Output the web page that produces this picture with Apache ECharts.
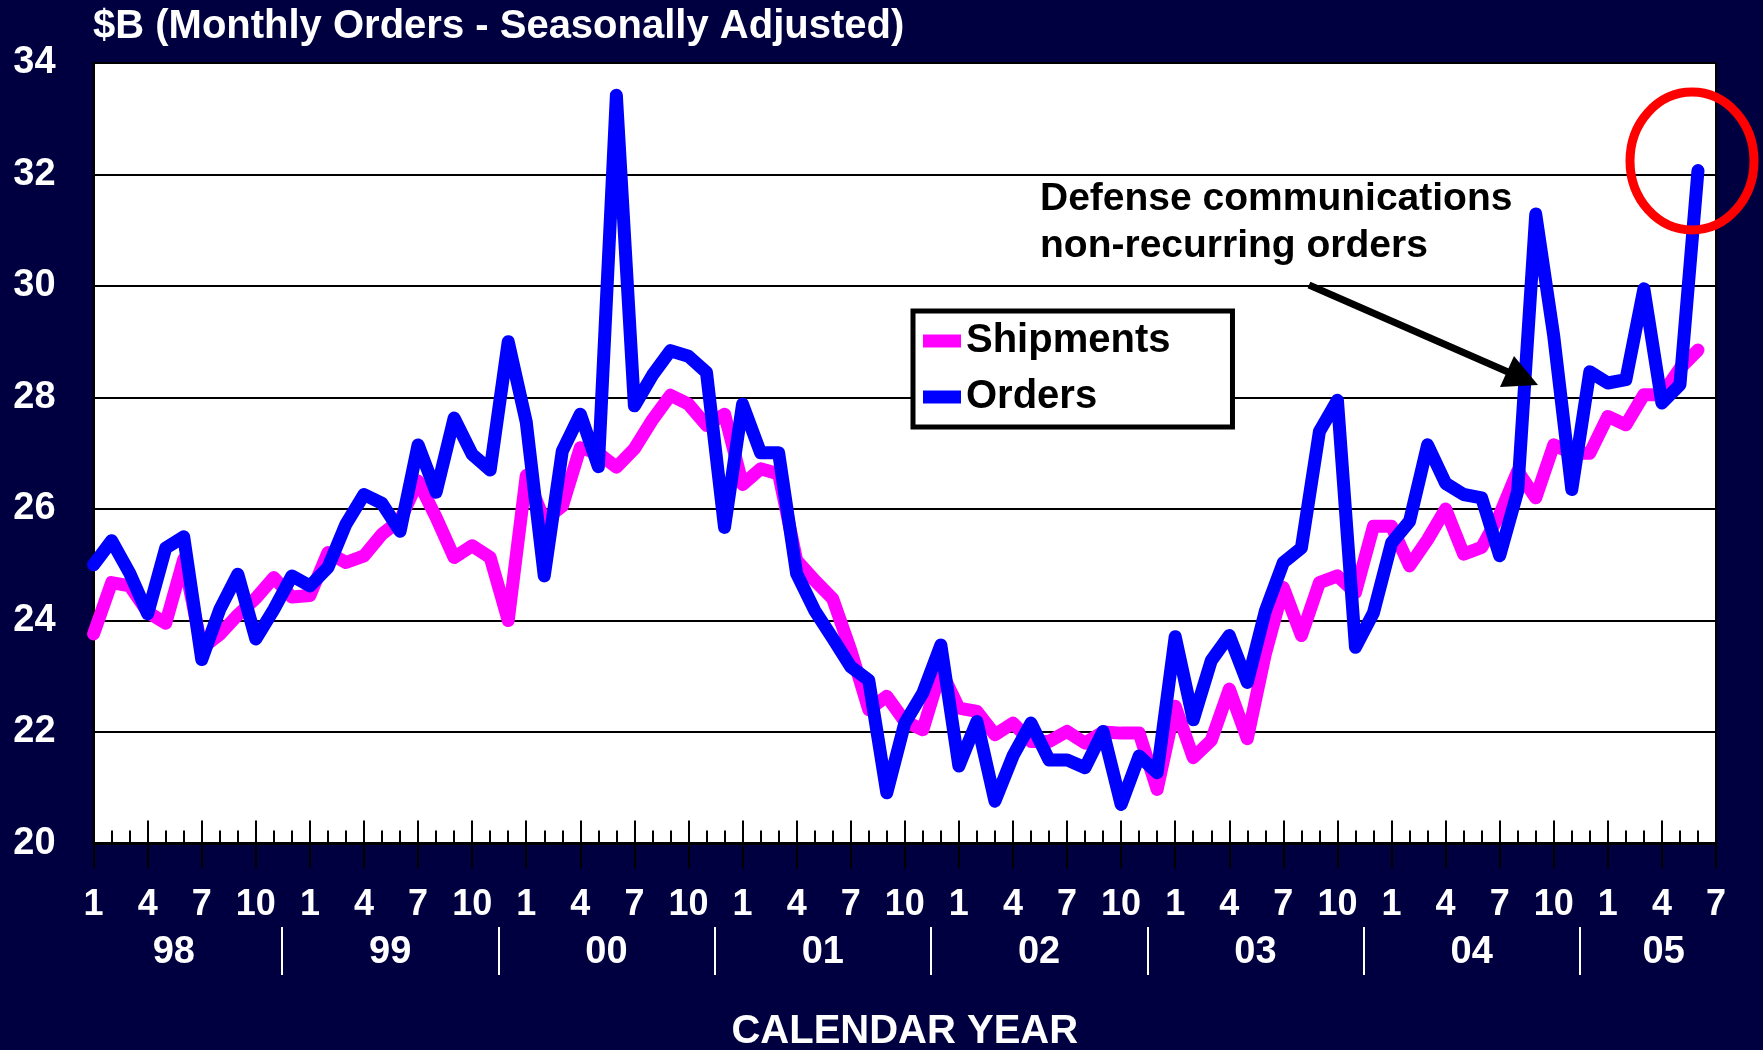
<!DOCTYPE html>
<html lang="en">
<head>
  <meta charset="UTF-8">
  <title>Monthly Orders vs Shipments</title>
  <script src="https://cdn.jsdelivr.net/npm/echarts@6/dist/echarts.min.js"></script>
  <style>
    html, body { margin: 0; padding: 0; background: #000040; }
    #chart { width: 1763px; height: 1050px; }
  </style>
</head>
<body>
  <div id="chart"></div>
  <script>
    // monthly values, Jan 98 .. Jun 05 ($B, seasonally adjusted)
    const shipments = [
      23.76, 24.68, 24.62, 24.15, 23.95, 25.1, 23.5, 23.75, 24.1, 24.4, 24.77, 24.42,
      24.45, 25.22, 25.04, 25.16, 25.55, 25.8, 26.5, 25.85, 25.13, 25.34, 25.13, 24.0,
      26.6, 25.8, 26.05, 27.1, 27.0, 26.75, 27.08, 27.6, 28.04, 27.88, 27.5, 27.7,
      26.44, 26.72, 26.63, 25.08, 24.72, 24.39, 23.47, 22.4, 22.64, 22.19, 22.04, 23.1,
      22.43, 22.37, 21.95, 22.16, 21.83, 21.83, 22.01, 21.8, 22.0, 21.98, 21.98, 20.97,
      22.46, 21.54, 21.85, 22.77, 21.88, 23.4, 24.59, 23.73, 24.68, 24.8, 24.5, 25.69,
      25.69, 24.98, 25.45, 26.0, 25.19, 25.31, 25.9, 26.68, 26.2, 27.15, 27.0, 27.0,
      27.66, 27.51, 28.05, 28.05, 28.52, 28.85
    ];
    const orders = [
      25.0, 25.43, 24.85, 24.12, 25.3, 25.5, 23.3, 24.2, 24.83, 23.67, 24.2, 24.8,
      24.62, 24.95, 25.73, 26.26, 26.1, 25.6, 27.15, 26.3, 27.63, 26.98, 26.7, 29.0,
      27.56, 24.8, 27.04, 27.7, 26.76, 33.42, 27.85, 28.4, 28.84, 28.74, 28.45, 25.67,
      27.88, 27.01, 27.01, 24.84, 24.18, 23.68, 23.17, 22.93, 20.91, 22.16, 22.7, 23.56,
      21.39, 22.19, 20.76, 21.57, 22.16, 21.5, 21.5, 21.36, 22.01, 20.7, 21.57, 21.27,
      23.71, 22.22, 23.28, 23.73, 22.89, 24.17, 25.04, 25.3, 27.39, 27.95, 23.52, 24.14,
      25.39, 25.78, 27.15, 26.46, 26.26, 26.2, 25.16, 26.32, 31.29, 29.1, 26.35, 28.46,
      28.26, 28.32, 29.95, 27.9, 28.23, 32.07
    ];
    const years = ['98', '99', '00', '01', '02', '03', '04', '05'];
    const seriesNames = ['Shipments', 'Orders'];
    const titleText = '$B (Monthly Orders - Seasonally Adjusted)';
    const noteLines = ['Defense communications', 'non-recurring orders'];
    const xName = 'CALENDAR YEAR';

    // categories Jan 98 .. Jul 05 (axis runs one month past the data)
    const months = [];
    for (let i = 0; i <= orders.length; i++) {
      months.push(years[Math.floor(i / 12)] + '-' + ((i % 12) + 1));
    }

    // year separators sit a bit before each January on the original slide
    const seps = years.slice(1).map((y, k) => 12 * (k + 1) - 1.55);
    const yearPos = years.map((y, k) => {
      const a = k === 0 ? -1.55 : seps[k - 1];
      const b = k < seps.length ? seps[k] : 91.75;
      return (a + b) / 2;
    });

    const font = '"Liberation Sans", Arial, sans-serif';
    const white = { color: '#fff', fontWeight: 'bold', fontFamily: font };

    const chart = echarts.init(document.getElementById('chart'));

    chart.setOption({
      backgroundColor: '#000040',
      animation: false,
      title: {
        text: titleText, left: 93, top: 7, padding: 0,
        textStyle: Object.assign({ fontSize: 40 }, white)
      },
      legend: {
        orient: 'vertical', left: 913, top: 311,
        padding: [10, 62, 10, 10], itemGap: 16,
        backgroundColor: '#fff', borderColor: '#000', borderWidth: 5,
        icon: 'rect', itemWidth: 38, itemHeight: 13,
        data: seriesNames,
        textStyle: { color: '#000', fontSize: 40, fontWeight: 'bold', fontFamily: font }
      },
      grid: {
        left: 93.6, right: 47, top: 63, bottom: 206.5,
        outerBoundsMode: 'none', containLabel: false,
        show: true, backgroundColor: '#fff', borderColor: '#000', borderWidth: 2
      },
      xAxis: [
        {
          type: 'category', data: months, boundaryGap: false, position: 'bottom',
          axisLine: { lineStyle: { color: '#000', width: 3 } },
          axisTick: { interval: 0, inside: true, length: 13, lineStyle: { color: '#000', width: 2 } },
          axisLabel: Object.assign({
            fontSize: 36, margin: 44,
            interval: (i) => i % 3 === 0,
            formatter: (v, i) => String((i % 12) + 1)
          }, white),
          splitLine: { show: false }
        },
        {
          type: 'category', data: months, boundaryGap: false, position: 'bottom', offset: 25,
          axisLine: { show: false },
          axisTick: { interval: (i) => i % 3 === 0, inside: true, length: 48, lineStyle: { color: '#000', width: 2 } },
          axisLabel: { show: false },
          splitLine: { show: false }
        },
        {
          type: 'value', min: 0, max: orders.length, position: 'bottom', offset: 83.5,
          axisLine: { show: false },
          axisTick: { show: true, customValues: seps, inside: false, length: 48, lineStyle: { color: '#fff', width: 2 } },
          axisLabel: Object.assign({
            fontSize: 38, margin: 7, customValues: yearPos,
            formatter: (v) => years[yearPos.findIndex(p => Math.abs(p - v) < 0.01)] || ''
          }, white),
          splitLine: { show: false },
          name: xName, nameLocation: 'middle', nameGap: 85,
          nameTextStyle: Object.assign({ fontSize: 40 }, white)
        }
      ],
      yAxis: {
        type: 'value', min: 20, max: 34, interval: 2,
        axisLine: { show: true, lineStyle: { color: '#000', width: 2 } },
        axisTick: { show: false },
        axisLabel: Object.assign({ fontSize: 38, margin: 38 }, white),
        splitLine: { lineStyle: { color: '#000', width: 2 } }
      },
      series: [
        {
          name: seriesNames[0], type: 'line', data: shipments, symbol: 'none',
          color: '#ff00ff',
          lineStyle: { width: 13, color: '#ff00ff', join: 'round', cap: 'round' }
        },
        {
          name: seriesNames[1], type: 'line', data: orders, symbol: 'none',
          color: '#0000ff',
          lineStyle: { width: 13, color: '#0000ff', join: 'round', cap: 'round' }
        }
      ],
      graphic: [
        {
          type: 'text', left: 1040, top: 176, z: 100,
          style: { text: noteLines.join('\n'), fill: '#000', fontSize: 39, fontWeight: 'bold', fontFamily: font, lineHeight: 47 }
        },
        {
          type: 'line', z: 100,
          shape: { x1: 1309, y1: 285, x2: 1508, y2: 372 },
          style: { stroke: '#000', lineWidth: 7 }
        },
        {
          type: 'polygon', z: 100,
          shape: { points: [[1538, 385], [1500, 387], [1514, 356]] },
          style: { fill: '#000' }
        },
        {
          type: 'ellipse', z: 100,
          shape: { cx: 1692, cy: 161, rx: 62, ry: 69 },
          style: { stroke: '#ff0000', lineWidth: 9, fill: null }
        }
      ]
    });
  </script>
</body>
</html>
